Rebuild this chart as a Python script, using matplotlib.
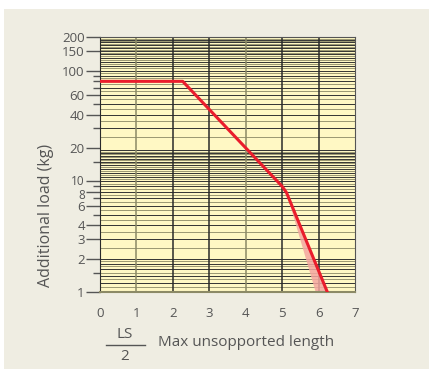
import numpy as np
import matplotlib.pyplot as plt
from matplotlib.patches import Rectangle
from matplotlib.transforms import ScaledTranslation

# load curve (x = LS/2, y = additional load in kg)
curve_x = [0, 2.27, 5.0, 5.12, 6.24]
curve_y = [80, 80, 9.0, 7.9, 1.0]

# tolerance band under the last segment
band_x = [5.12, 6.24, 5.92]
band_y = [7.9, 1.0, 1.0]

y_ticks = [1, 2, 3, 4, 6, 8, 10, 20, 40, 60, 100, 150, 200]
y_minor = [1.5, 5, 7, 9, 15, 30, 50, 70, 80, 90]
x_ticks = [0, 1, 2, 3, 4, 5, 6, 7]

# graph-paper rulings: (start, stop, step)
rulings = [(1.0, 2.0, 0.1), (2.5, 7.0, 0.5), (7.5, 19.0, 0.5),
           (25, 90, 5), (95, 200, 5)]

plt.rcParams['font.family'] = ['Open Sans', 'DejaVu Sans']

fig = plt.figure(figsize=(4.29, 3.69), dpi=100, facecolor='white')
fig.patches.append(Rectangle((4 / 429, 0), 1, 1 - 9 / 369, transform=fig.transFigure,
                             facecolor='#efede2', edgecolor='none', zorder=-10))

ax = fig.add_axes([100 / 429, 1 - 292 / 369, 255 / 429, (292 - 37.3) / 369])
ax.set_facecolor('#fff8c4')
ax.set_yscale('log')
ax.set_xlim(0, 7)
ax.set_ylim(1, 200)

i = 0
for start, stop, step in rulings:
    for v in np.arange(start, stop + step / 2, step):
        col = '#333333' if i % 2 == 0 else '#9a9772'
        ax.axhline(v, color=col, lw=0.7, zorder=1)
        i += 1

for xv in x_ticks[1:-1]:
    col = '#8c8a66' if xv in (1, 4) else '#2a2a2a'
    ax.axvline(xv, color=col, lw=1.1, zorder=1)

ax.fill(band_x, band_y, color='#f4a6a0', alpha=0.85, lw=0, zorder=2)
ax.plot(curve_x, curve_y, color='#ea1d2c', lw=2.2, solid_joinstyle='round', zorder=3)

ax.set_yticks(y_ticks)
ax.set_yticklabels([str(v) for v in y_ticks])
ax.set_yticks(y_minor, minor=True)
ax.set_yticklabels([], minor=True)
ax.set_xticks(x_ticks)
ax.tick_params(axis='y', which='major', length=10, width=1, color='#555555',
               labelsize=9.5, labelcolor='#555555', pad=1)
ax.tick_params(axis='y', which='minor', length=5, width=1, color='#555555')
ax.tick_params(axis='x', length=0, labelsize=9.5, labelcolor='#555555', pad=11)

# "10" and "8" sit very close, nudge them apart
for lab in ax.get_yticklabels():
    if lab.get_text() == '10':
        lab.set_transform(lab.get_transform() + ScaledTranslation(0, 1.1 / 72, fig.dpi_scale_trans))
        lab.set_fontsize(8.5)
    elif lab.get_text() == '8':
        lab.set_transform(lab.get_transform() + ScaledTranslation(0, -1.1 / 72, fig.dpi_scale_trans))
        lab.set_fontsize(8.5)

for side in ['top', 'right']:
    ax.spines[side].set_color('#555555')
ax.spines['left'].set_color('#2a2a2a')
ax.spines['bottom'].set_color('#8c8a66')
ax.spines['bottom'].set_linewidth(1.5)

ax.set_ylabel('Additional load (kg)', fontsize=11.5, color='#555555')
ax.yaxis.set_label_coords(-0.18, 0.3)

# x label with LS/2 fraction
fig.text(125 / 429, 1 - 334 / 369, 'LS', ha='center', va='center', fontsize=11, color='#555555')
fig.text(125 / 429, 1 - 357 / 369, '2', ha='center', va='center', fontsize=11, color='#555555')
fig.add_artist(plt.Line2D([106 / 429, 145 / 429], [1 - 345 / 369, 1 - 345 / 369],
                          color='#555555', lw=1))
fig.text(158 / 429, 1 - 343 / 369, 'Max unsopported length', ha='left', va='center',
         fontsize=11, color='#555555')

fig.savefig('out.png', dpi=100, facecolor=fig.get_facecolor())
